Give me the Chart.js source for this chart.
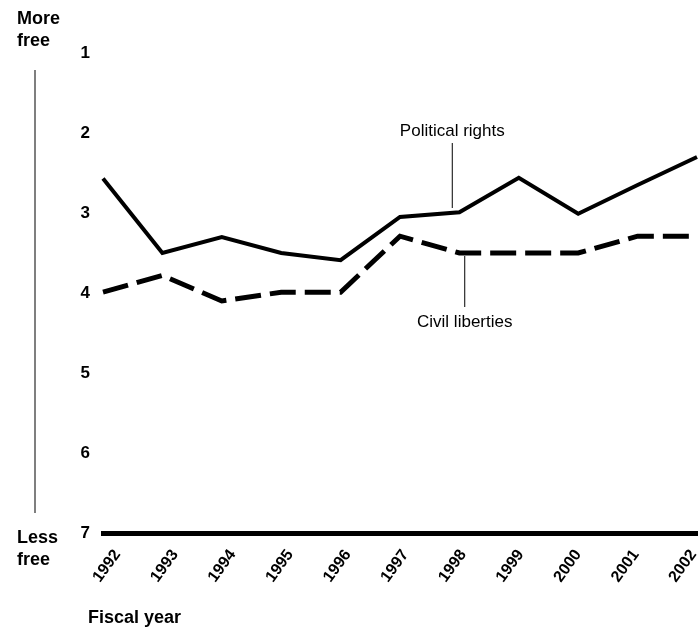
<!DOCTYPE html>
<html>
<head>
<meta charset="utf-8">
<script src="https://cdn.jsdelivr.net/npm/chart.js@4"></script>
<style>
  body { margin: 0; background: #fff; }
  canvas { display: block; }
</style>
</head>
<body>
<canvas id="chart" width="699" height="628"></canvas>
<script>
const years = ['1992', '1993', '1994', '1995', '1996', '1997', '1998', '1999', '2000', '2001', '2002'];
const politicalRights = [2.57, 3.5, 3.3, 3.5, 3.59, 3.05, 2.99, 2.56, 3.01, 2.65, 2.3];
const civilLiberties = [3.99, 3.78, 4.1, 3.99, 3.99, 3.29, 3.5, 3.5, 3.5, 3.29, 3.29];
const yTicks = [1, 2, 3, 4, 5, 6, 7];

const FONT = '"Liberation Sans", Arial, Helvetica, sans-serif';

// side texts, rotated year labels and leader-line annotations
const decor = {
  id: 'decor',
  afterDraw(chart) {
    const ctx = chart.ctx;
    const x = chart.scales.x;
    ctx.save();
    ctx.fillStyle = '#000';

    ctx.font = 'bold 18px ' + FONT;
    ctx.textAlign = 'left';
    ctx.textBaseline = 'middle';
    ctx.fillText('More', 17, 19);
    ctx.fillText('free', 17, 41);
    ctx.fillText('Less', 17, 538);
    ctx.fillText('free', 17, 560);
    ctx.fillText('Fiscal year', 88, 618);

    ctx.strokeStyle = '#555';
    ctx.lineWidth = 1.5;
    ctx.beginPath();
    ctx.moveTo(35, 70);
    ctx.lineTo(35, 513);
    ctx.stroke();

    // year labels, slightly tighter than the tick spacing as in the original
    ctx.font = 'bold 16px ' + FONT;
    ctx.textAlign = 'center';
    years.forEach((yr, i) => {
      ctx.save();
      ctx.translate(x.getPixelForValue(i) + 4 - 1.8 * i, 566);
      ctx.rotate(-54 * Math.PI / 180);
      ctx.fillText(yr, 0, 0);
      ctx.restore();
    });

    // annotations
    ctx.font = '17px ' + FONT;
    ctx.strokeStyle = '#000';
    ctx.lineWidth = 1;
    const px = x.getPixelForValue(5.88);
    ctx.fillText('Political rights', px, 131);
    ctx.beginPath();
    ctx.moveTo(px, 143);
    ctx.lineTo(px, 208);
    ctx.stroke();

    const cx = x.getPixelForValue(6.09);
    ctx.fillText('Civil liberties', cx, 322);
    ctx.beginPath();
    ctx.moveTo(cx, 256);
    ctx.lineTo(cx, 307);
    ctx.stroke();
    ctx.restore();
  }
};

new Chart(document.getElementById('chart'), {
  type: 'line',
  data: {
    labels: years,
    datasets: [
      {
        label: 'Political rights',
        data: politicalRights,
        borderColor: '#000',
        borderWidth: 4,
        pointRadius: 0,
        tension: 0,
        borderJoinStyle: 'miter'
      },
      {
        label: 'Civil liberties',
        data: civilLiberties,
        borderColor: '#000',
        borderWidth: 5,
        borderDash: [26, 9],
        pointRadius: 0,
        tension: 0,
        borderJoinStyle: 'miter'
      }
    ]
  },
  options: {
    responsive: false,
    animation: false,
    layout: { padding: { top: 53, right: 2, left: 0, bottom: 0 } },
    plugins: { legend: { display: false }, tooltip: { enabled: false } },
    scales: {
      x: {
        offset: false,
        grid: { display: false, drawTicks: false },
        border: { display: true, color: '#000', width: 5 },
        ticks: { display: false },
        afterFit(scale) { scale.height = 95; }
      },
      y: {
        reverse: true,
        min: 1,
        max: 7,
        grid: { display: false, drawTicks: false },
        border: { display: false },
        afterBuildTicks(scale) { scale.ticks = yTicks.map(v => ({ value: v })); },
        ticks: {
          color: '#000',
          padding: 13,
          font: { family: FONT, size: 17, weight: 'bold' }
        },
        afterFit(scale) { scale.width = 103; }
      }
    }
  },
  plugins: [decor]
});
</script>
</body>
</html>
